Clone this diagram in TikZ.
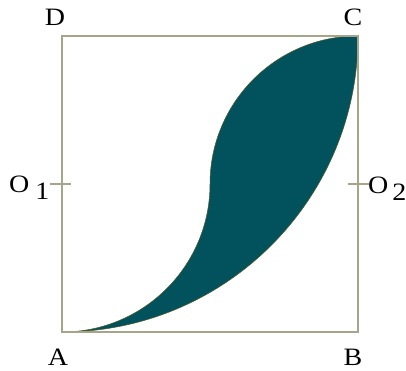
\documentclass[tikz,border=0pt]{standalone}
\usepackage{fontspec}
\setmainfont{Liberation Serif}[FakeStretch=1.12]
\definecolor{leaf}{RGB}{2,82,94}
\definecolor{leafedge}{RGB}{80,90,30}
\definecolor{frame}{RGB}{165,165,140}
\begin{document}
\begin{tikzpicture}[x=1pt,y=1pt,
  lbl/.style={inner sep=0pt,font=\fontsize{25}{25}\selectfont},
  framestyle/.style={draw=frame,line width=1.4pt},
  tick/.style={draw=frame,line width=1.2pt}]
\useasboundingbox (0,0) rectangle (406,370);
\coordinate (A) at (62,38);
\coordinate (B) at (358,38);
\coordinate (C) at (358,334);
\coordinate (D) at (62,334);
\coordinate (O1) at (62,186);
\coordinate (O2) at (358,186);
\coordinate (t1a) at (50,186);
\coordinate (t1b) at (71,186);
\coordinate (t2a) at (348,186);
\coordinate (t2b) at (369,186);
% leaf shape
\fill[leaf,draw=leafedge,line width=0.5pt] (A) arc[start angle=-90,end angle=0,radius=148]
  arc[start angle=180,end angle=90,radius=148]
  arc[start angle=0,end angle=-90,radius=296] -- cycle;
% square
\draw[framestyle] (A) -- (B) -- (C) -- (D) -- cycle;
\draw[tick] (t1a) -- (t1b);
\draw[tick] (t2a) -- (t2b);
% labels
\node[lbl] (lD) at (55,353) {D};
\node[lbl] (lC) at (353,353) {C};
\node[lbl] (lA) at (58,13) {A};
\node[lbl] (lB) at (353,13) {B};
\node[lbl,anchor=base west] (lO1) at (9,178) {O\hspace{6pt}\raisebox{-7pt}{1}};
\node[lbl,anchor=base west] (lO2) at (368,177) {O\hspace{4pt}\raisebox{-7pt}{2}};
\end{tikzpicture}
\end{document}
